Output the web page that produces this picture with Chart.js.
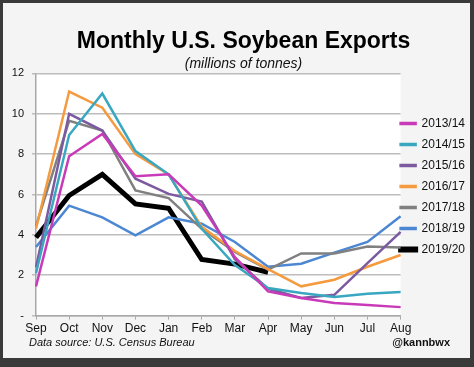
<!DOCTYPE html>
<html>
<head>
<meta charset="utf-8">
<script src="https://cdn.jsdelivr.net/npm/chart.js@4.4.0/dist/chart.umd.min.js"></script>
<style>
  html, body { margin: 0; padding: 0; background: #3a3a3a; width: 474px; height: 367px; overflow: hidden; }
  #wrap { position: absolute; left: 3px; top: 3px; width: 467px; height: 355px; background: #f4f4f4; }
</style>
</head>
<body>
<div id="wrap"><canvas id="chart" width="467" height="355"></canvas></div>
<script>
const months = ['Sep', 'Oct', 'Nov', 'Dec', 'Jan', 'Feb', 'Mar', 'Apr', 'May', 'Jun', 'Jul', 'Aug'];
const yTicks = [0, 2, 4, 6, 8, 10, 12];

const s1314 = [1.45, 7.9, 9.0, 6.9, 7.0, 5.45, 2.9, 1.2, 0.87, 0.62, 0.53, 0.42];
const s1415 = [2.1, 8.95, 11.0, 8.15, 7.0, 4.3, 2.5, 1.37, 1.12, 0.92, 1.08, 1.17];
const s1516 = [2.4, 10.0, 9.17, 6.78, 6.03, 5.65, 2.8, 1.33, 0.87, 1.03, 2.6, 4.15];
const s1617 = [4.3, 11.1, 10.3, 8.0, 7.0, 4.4, 3.2, 2.3, 1.45, 1.78, 2.42, 3.0];
const s1718 = [4.45, 9.65, 9.17, 6.2, 5.82, 4.3, 3.15, 2.28, 3.08, 3.08, 3.42, 3.37];
const s1819 = [3.4, 5.45, 4.87, 3.98, 4.87, 4.55, 3.65, 2.42, 2.57, 3.12, 3.65, 4.92];
const s1920 = [3.87, 5.95, 7.0, 5.53, 5.32, 2.78, 2.55, 2.15];

const seasons = ['2013/14', '2014/15', '2015/16', '2016/17', '2017/18', '2018/19', '2019/20'];
const colors = ['#c93ab9', '#3aa7c0', '#7b5a9f', '#f59a3e', '#808080', '#4b87d2', '#000000'];
const allSeries = [s1314, s1415, s1516, s1617, s1718, s1819, s1920];

const FONT = 'Liberation Sans, Arial, sans-serif';

// white plot area, footer texts, nudge legend
const extras = {
  id: 'extras',
  afterLayout(chart) {
    const lg = chart.legend;
    const dx = chart.chartArea.right - 9 - lg.left;
    lg.left += dx; lg.right += dx;
    lg.top += 16; lg.bottom += 16;
  },
  beforeDraw(chart) {
    const a = chart.chartArea;
    const ctx = chart.ctx;
    ctx.save();
    ctx.fillStyle = '#ffffff';
    ctx.fillRect(a.left, a.top, a.right - a.left, a.bottom - a.top);
    ctx.restore();
  },
  afterDraw(chart) {
    const ctx = chart.ctx;
    ctx.save();
    ctx.fillStyle = '#111';
    ctx.textBaseline = 'middle';
    ctx.font = 'italic 11px ' + FONT;
    ctx.textAlign = 'left';
    ctx.fillText('Data source: U.S. Census Bureau', 26, 340);
    ctx.font = 'bold 11px ' + FONT;
    ctx.textAlign = 'right';
    ctx.fillText('@kannbwx', 447, 340);
    ctx.restore();
  }
};

const ctx = document.getElementById('chart').getContext('2d');
new Chart(ctx, {
  type: 'line',
  data: {
    labels: months,
    datasets: seasons.map((name, i) => ({
      label: name,
      data: allSeries[i],
      borderColor: colors[i],
      backgroundColor: colors[i],
      borderWidth: i === 6 ? 5 : 2.5,
      pointRadius: 0,
      tension: 0,
      fill: false
    }))
  },
  options: {
    responsive: false,
    animation: false,
    layout: { padding: { left: 0, right: -14, top: 0, bottom: 20 } },
    scales: {
      x: {
        offset: false,
        grid: { drawOnChartArea: false, drawTicks: true, tickLength: 4, color: '#a8a8a8', lineWidth: 1 },
        border: { color: '#a8a8a8', width: 1.5 },
        ticks: { color: '#111', font: { family: FONT, size: 12 }, padding: 2, maxRotation: 0, autoSkip: false }
      },
      y: {
        min: 0,
        max: 12,
        afterFit(scale) { scale.width = 33; },
        afterBuildTicks(scale) { scale.ticks = yTicks.map(v => ({ value: v })); },
        grid: { color: '#bdbdbd', lineWidth: 1.5, tickLength: 4 },
        border: { color: '#a8a8a8', width: 1.5 },
        ticks: {
          color: '#111',
          font: { family: FONT, size: 11 },
          padding: 8,
          callback: v => v === 0 ? '-' : v
        }
      }
    },
    plugins: {
      legend: {
        position: 'right',
        labels: {
          boxWidth: 15,
          boxHeight: 1,
          padding: 9,
          color: '#111',
          font: { family: FONT, size: 12 }
        }
      },
      title: {
        display: true,
        text: 'Monthly U.S. Soybean Exports',
        color: '#000',
        font: { family: FONT, size: 23, weight: 'bold' },
        padding: { top: 25, bottom: 0 }
      },
      subtitle: {
        display: true,
        text: '(millions of tonnes)',
        color: '#111',
        font: { family: FONT, size: 14, style: 'italic' },
        padding: { top: 0, bottom: 1 }
      },
      tooltip: { enabled: false }
    }
  },
  plugins: [extras]
});
</script>
</body>
</html>
